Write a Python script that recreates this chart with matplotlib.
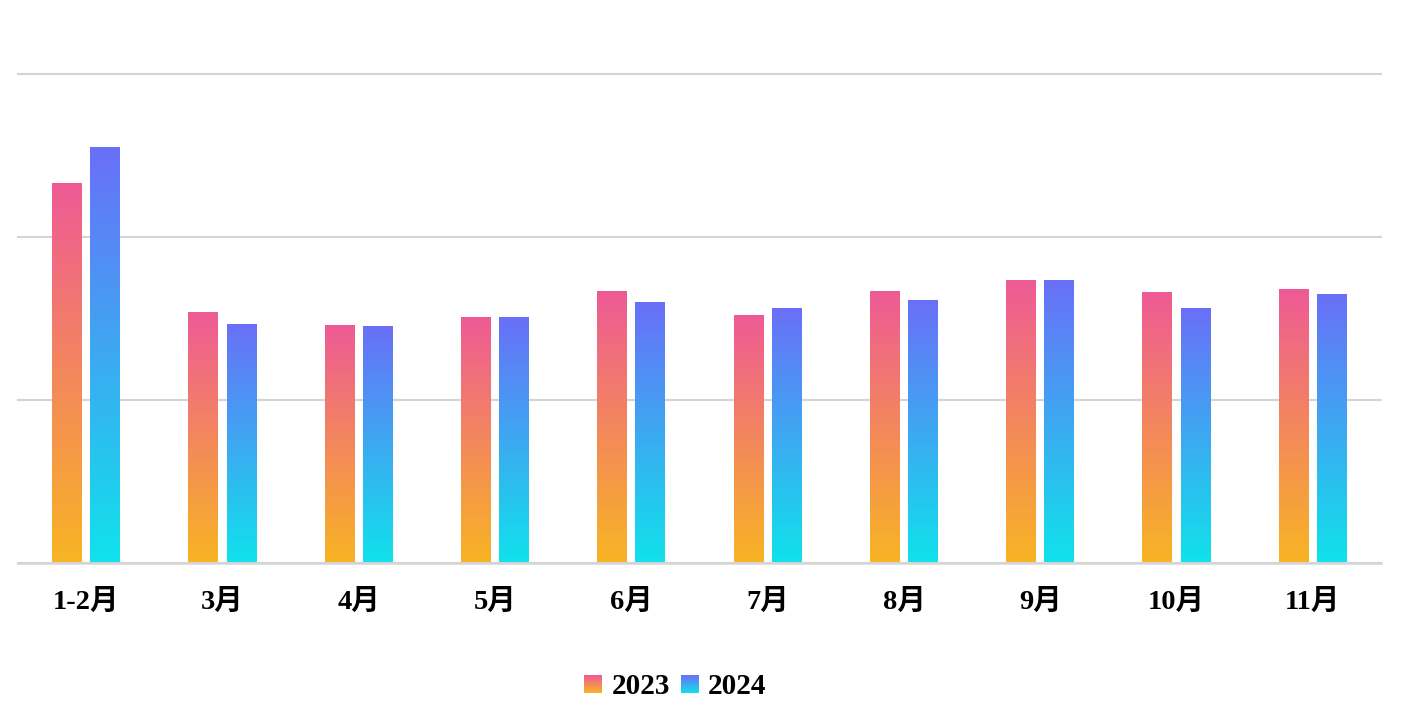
import numpy as np
import matplotlib
matplotlib.use("Agg")
import matplotlib.pyplot as plt
from matplotlib.colors import LinearSegmentedColormap
from matplotlib.patches import Rectangle

plt.rcParams['font.family'] = ['Liberation Serif', 'Noto Sans CJK SC']

months = ["1-2月", "3月", "4月", "5月", "6月", "7月", "8月", "9月", "10月", "11月"]
series_names = ["2023", "2024"]
values_2023 = [2.33, 1.54, 1.46, 1.51, 1.67, 1.52, 1.67, 1.735, 1.66, 1.68]
values_2024 = [2.55, 1.465, 1.45, 1.51, 1.60, 1.56, 1.61, 1.735, 1.56, 1.65]

# gradient colors: bottom -> top
cmap_2023 = LinearSegmentedColormap.from_list("c23", ["#f8b424", "#ee5a96"])
cmap_2024 = LinearSegmentedColormap.from_list("c24", ["#10e2eb", "#6a6ff8"])

BAR_W = 0.22
GAP = 0.06


def gradient_bar(ax, x, h, w, cmap):
    grad = np.linspace(0, 1, 256).reshape(-1, 1)
    img = ax.imshow(grad, cmap=cmap, origin="lower", aspect="auto",
                    extent=(x - w / 2, x + w / 2, 0, h), zorder=3)
    rect = Rectangle((x - w / 2, 0), w, h, transform=ax.transData,
                     facecolor="none", edgecolor="none")
    ax.add_patch(rect)
    img.set_clip_path(rect)


fig = plt.figure(figsize=(14.18, 7.24), dpi=100)
ax = fig.add_axes([18 / 1418, 1 - 562.5 / 724, (1381 - 18) / 1418, (562.5 - 74) / 724])

x = np.arange(len(months))
offset = (BAR_W + GAP) / 2
for i in range(len(months)):
    gradient_bar(ax, x[i] - offset, values_2023[i], BAR_W, cmap_2023)
    gradient_bar(ax, x[i] + offset, values_2024[i], BAR_W, cmap_2024)

ax.set_xlim(-0.5, len(months) - 0.5)
ax.set_ylim(0, 3)
ax.set_yticks([0, 1, 2, 3])
ax.yaxis.grid(True, color="#d4d4d4", linewidth=1.5, zorder=0)
for gl in ax.get_ygridlines():
    gl.set_clip_on(False)
ax.set_axisbelow(True)
ax.tick_params(axis="y", left=False, labelleft=False)
ax.set_xticks(x)
ax.set_xticklabels(months, fontsize=20.5, fontweight="bold")
ax.tick_params(axis="x", length=0, pad=19)
for s in ["top", "right", "left"]:
    ax.spines[s].set_visible(False)
ax.spines["bottom"].set_color("#d4d4d4")
ax.spines["bottom"].set_linewidth(1.8)

# legend
grad = np.linspace(0, 1, 64).reshape(-1, 1)
legend_items = [(584, 612, cmap_2023, series_names[0]), (681, 708, cmap_2024, series_names[1])]
for sx, tx, cmap, name in legend_items:
    lax = fig.add_axes([sx / 1418, 1 - 693 / 724, 18 / 1418, 18 / 724])
    lax.imshow(grad, cmap=cmap, origin="lower", aspect="auto")
    lax.axis("off")
    fig.text(tx / 1418, 1 - 686 / 724, name, fontsize=21, fontweight="bold",
             va="center", ha="left")

fig.savefig("out.png", dpi=100, facecolor="white")
